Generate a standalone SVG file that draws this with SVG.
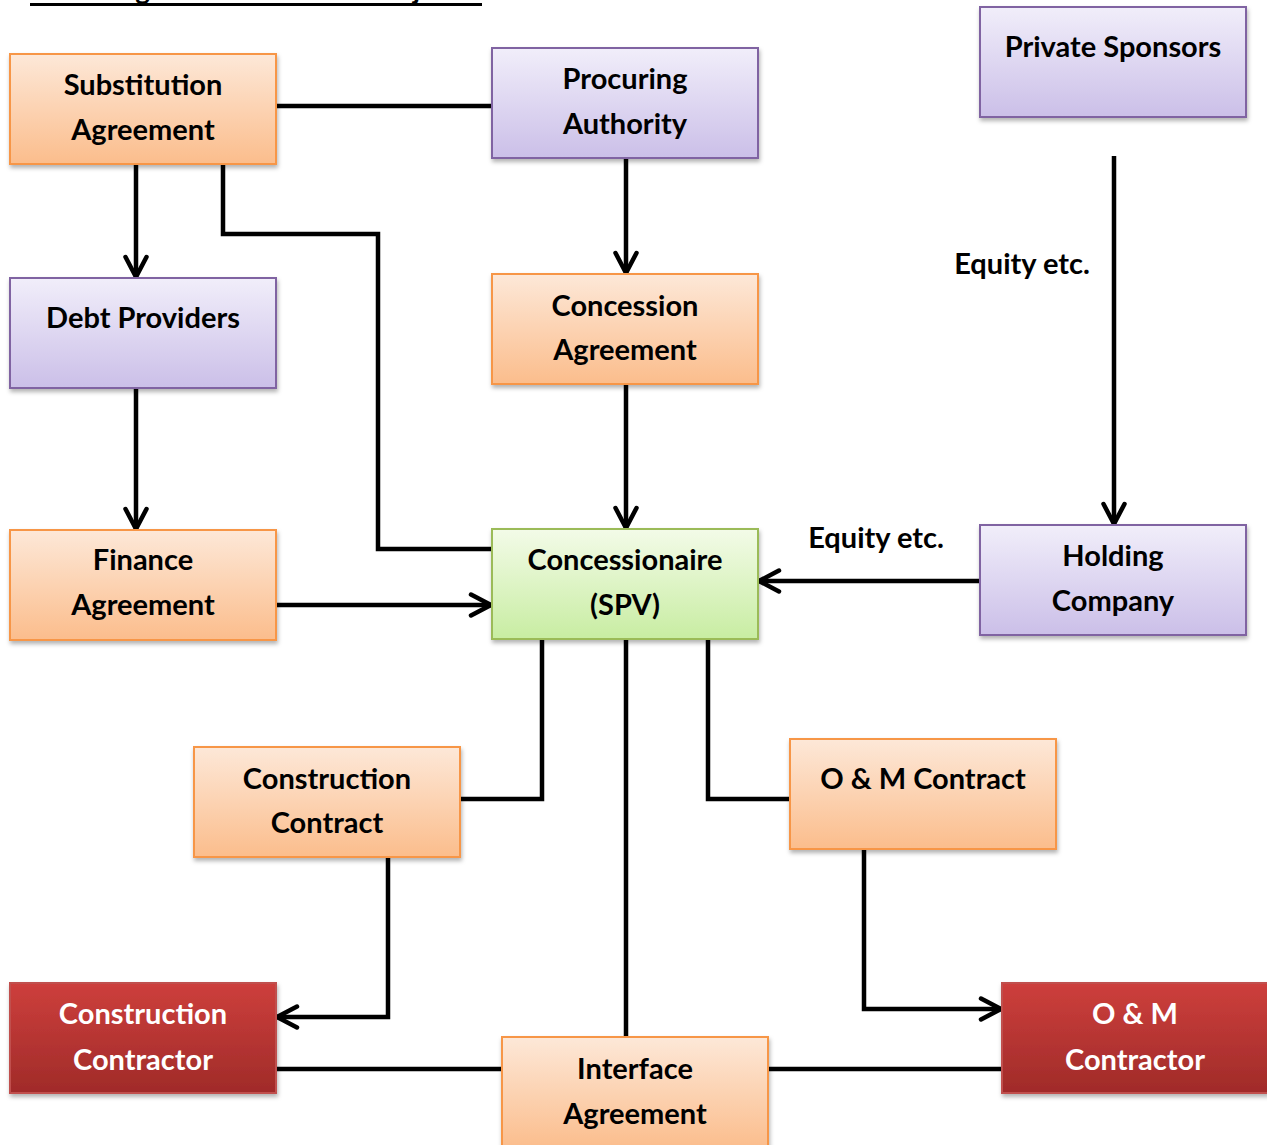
<svg xmlns="http://www.w3.org/2000/svg" width="1267" height="1145" viewBox="0 0 1267 1145">
  <defs>
    <linearGradient id="gOrange" x1="0" y1="0" x2="0" y2="1">
      <stop offset="0" stop-color="#fde8d8"/>
      <stop offset="1" stop-color="#fbbd8c"/>
    </linearGradient>
    <linearGradient id="gPurple" x1="0" y1="0" x2="0" y2="1">
      <stop offset="0" stop-color="#f1eefa"/>
      <stop offset="1" stop-color="#cbbfe8"/>
    </linearGradient>
    <linearGradient id="gGreen" x1="0" y1="0" x2="0" y2="1">
      <stop offset="0" stop-color="#f3fbe8"/>
      <stop offset="1" stop-color="#c8eda2"/>
    </linearGradient>
    <linearGradient id="gRed" x1="0" y1="0" x2="0" y2="1">
      <stop offset="0" stop-color="#cd3f3c"/>
      <stop offset="1" stop-color="#a02b29"/>
    </linearGradient>
    <filter id="shadow" x="-10%" y="-10%" width="125%" height="130%">
      <feDropShadow dx="1" dy="3" stdDeviation="2" flood-color="#000" flood-opacity="0.3"/>
    </filter>
    <marker id="arrow" viewBox="0 0 26 26" refX="23" refY="13" markerWidth="26" markerHeight="26" markerUnits="userSpaceOnUse" orient="auto">
      <path d="M3,2.5 L23,13 L3,23.5" fill="none" stroke="#000" stroke-width="4.5" stroke-linecap="round" stroke-linejoin="round"/>
    </marker>
  </defs>
  <style>
    .box { stroke-width: 2; filter: url(#shadow); }
    .orange { fill: url(#gOrange); stroke: #f79646; }
    .purple { fill: url(#gPurple); stroke: #8064a2; }
    .green { fill: url(#gGreen); stroke: #9bbb59; }
    .red { fill: url(#gRed); stroke: #c0504d; }
    text { font-family: Lato, "Open Sans", "Liberation Sans", sans-serif; font-weight: bold; font-size: 29px; text-anchor: middle; fill: #000; }
    .light { fill: #fff; }
    .lbl { text-anchor: start; }
    .wire { fill: none; stroke: #000; stroke-width: 4.5; }
  </style>
  <rect width="1267" height="1145" fill="#fff"/>

  <!-- title, mostly above the visible area -->
  <g id="title">
    <text x="30" y="-1" class="lbl" style="font-size:28px">Financing Structure of PPP Project</text>
    <rect x="30" y="3" width="452" height="3" fill="#000"/>
  </g>

  <!-- connectors -->
  <g id="connectors">
    <path class="wire" d="M276,106 H492"/>
    <path class="wire" d="M136,164 V277" marker-end="url(#arrow)"/>
    <path class="wire" d="M223,164 V234 H378 V549 H492"/>
    <path class="wire" d="M626,158 V273" marker-end="url(#arrow)"/>
    <path class="wire" d="M1114,156 V524" marker-end="url(#arrow)"/>
    <path class="wire" d="M136,388 V529" marker-end="url(#arrow)"/>
    <path class="wire" d="M626,384 V528" marker-end="url(#arrow)"/>
    <path class="wire" d="M276,605 H491" marker-end="url(#arrow)"/>
    <path class="wire" d="M980,581 H759" marker-end="url(#arrow)"/>
    <path class="wire" d="M542,639 V799 H460"/>
    <path class="wire" d="M626,639 V1037"/>
    <path class="wire" d="M708,639 V799 H790"/>
    <path class="wire" d="M388,857 V1017 H277" marker-end="url(#arrow)"/>
    <path class="wire" d="M864,849 V1009 H1001" marker-end="url(#arrow)"/>
    <path class="wire" d="M276,1069 H502"/>
    <path class="wire" d="M768,1069 H1002"/>
  </g>

  <!-- edge labels -->
  <g id="labels">
    <text x="1022" y="274">Equity etc.</text>
    <text x="876" y="548">Equity etc.</text>
  </g>

  <g id="substitution">
    <rect class="box orange" x="10" y="54" width="266" height="110"/>
    <text x="143" y="95">Substitution</text>
    <text x="143" y="140">Agreement</text>
  </g>
  <g id="procuring">
    <rect class="box purple" x="492" y="48" width="266" height="110"/>
    <text x="625" y="89">Procuring</text>
    <text x="625" y="134">Authority</text>
  </g>
  <g id="sponsors">
    <rect class="box purple" x="980" y="7" width="266" height="110"/>
    <text x="1113" y="57">Private Sponsors</text>
  </g>
  <g id="debt">
    <rect class="box purple" x="10" y="278" width="266" height="110"/>
    <text x="143" y="328">Debt Providers</text>
  </g>
  <g id="concession">
    <rect class="box orange" x="492" y="274" width="266" height="110"/>
    <text x="625" y="316">Concession</text>
    <text x="625" y="360">Agreement</text>
  </g>
  <g id="finance">
    <rect class="box orange" x="10" y="530" width="266" height="110"/>
    <text x="143" y="570">Finance</text>
    <text x="143" y="615">Agreement</text>
  </g>
  <g id="spv">
    <rect class="box green" x="492" y="529" width="266" height="110"/>
    <text x="625" y="570">Concessionaire</text>
    <text x="625" y="615">(SPV)</text>
  </g>
  <g id="holding">
    <rect class="box purple" x="980" y="525" width="266" height="110"/>
    <text x="1113" y="566">Holding</text>
    <text x="1113" y="611">Company</text>
  </g>
  <g id="construction-contract">
    <rect class="box orange" x="194" y="747" width="266" height="110"/>
    <text x="327" y="789">Construction</text>
    <text x="327" y="833">Contract</text>
  </g>
  <g id="om-contract">
    <rect class="box orange" x="790" y="739" width="266" height="110"/>
    <text x="923" y="789">O &amp; M Contract</text>
  </g>
  <g id="construction-contractor">
    <rect class="box red" x="10" y="983" width="266" height="110"/>
    <text class="light" x="143" y="1024">Construction</text>
    <text class="light" x="143" y="1070">Contractor</text>
  </g>
  <g id="om-contractor">
    <rect class="box red" x="1002" y="983" width="266" height="110"/>
    <text class="light" x="1135" y="1024">O &amp; M</text>
    <text class="light" x="1135" y="1070">Contractor</text>
  </g>
  <g id="interface">
    <rect class="box orange" x="502" y="1037" width="266" height="112"/>
    <text x="635" y="1079">Interface</text>
    <text x="635" y="1124">Agreement</text>
  </g>
</svg>
